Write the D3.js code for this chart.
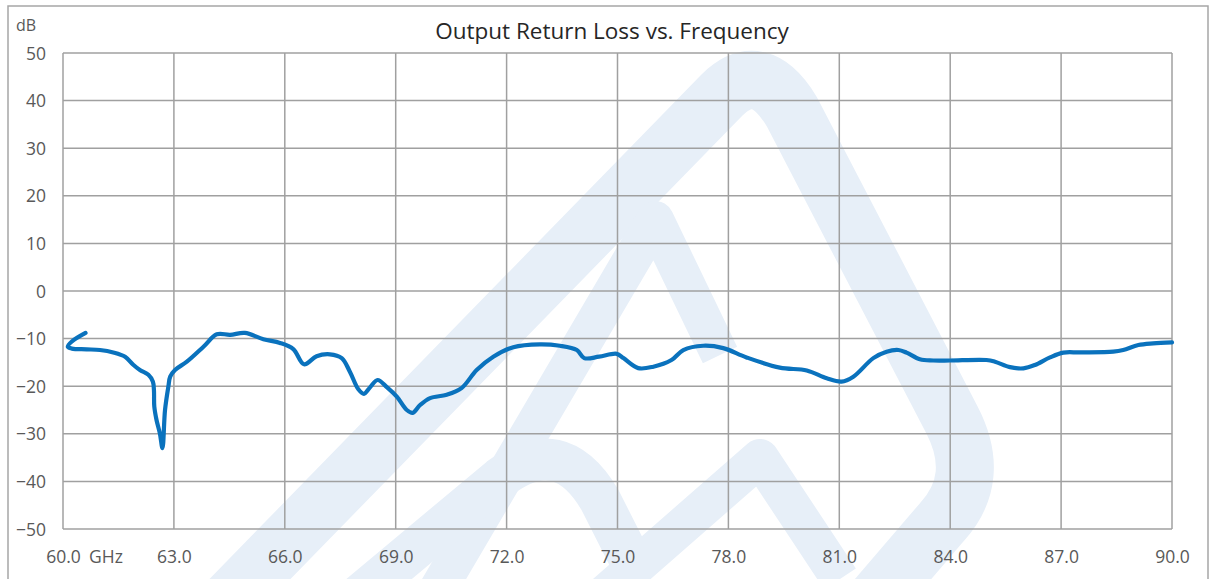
<!DOCTYPE html>
<html><head><meta charset="utf-8">
<script src="https://cdn.jsdelivr.net/npm/d3@7"></script>
<style>
html,body{margin:0;padding:0;background:#fff;}
svg{display:block;}
text{font-family:"Open Sans","Noto Sans",sans-serif;}
</style></head>
<body>
<svg id="chart" width="1213" height="579"></svg>
<script>
const title = "Output Return Loss vs. Frequency";
const yUnit = "dB";
const xUnit = "GHz";
const xTicks = [60,63,66,69,72,75,78,81,84,87,90];
const yTicks = [50,40,30,20,10,0,-10,-20,-30,-40,-50];
const freq = [60.61,60.24,60.13,60.24,60.64,61.0,61.36,61.68,61.9,62.08,62.31,62.43,62.46,62.47,62.53,62.62,62.69,62.76,62.85,62.9,63.03,63.35,63.8,64.16,64.52,64.92,65.42,65.87,66.23,66.52,66.86,67.22,67.54,67.76,67.99,68.14,68.3,68.51,68.76,69.03,69.3,69.46,69.66,69.93,70.38,70.78,71.19,71.64,72.18,72.9,73.44,73.9,74.1,74.5,74.98,75.16,75.56,75.97,76.46,76.78,77.32,77.86,78.49,79.39,80.12,80.66,81.06,81.38,81.92,82.28,82.6,82.82,83.18,83.54,83.99,84.98,85.21,85.62,85.98,86.29,86.7,87.06,87.51,88.41,88.68,89.09,89.49,90.0];
const returnLoss = [-8.8,-10.6,-11.7,-12.1,-12.25,-12.4,-12.9,-13.8,-15.5,-16.6,-17.6,-19.0,-20.8,-24.3,-27.1,-29.9,-33.0,-25.0,-20.1,-18.0,-16.6,-14.85,-11.7,-9.1,-9.2,-8.8,-10.15,-10.9,-12.2,-15.4,-13.7,-13.3,-14.1,-16.95,-20.65,-21.6,-20.3,-18.7,-20.2,-22.2,-25.0,-25.6,-23.95,-22.5,-21.8,-20.4,-16.6,-13.8,-11.8,-11.2,-11.5,-12.4,-14.1,-13.8,-13.2,-14.1,-16.2,-15.9,-14.5,-12.4,-11.5,-12.0,-13.95,-16.1,-16.7,-18.35,-19.05,-18.0,-14.1,-12.75,-12.4,-12.95,-14.35,-14.6,-14.6,-14.5,-14.85,-16.0,-16.25,-15.55,-13.95,-12.95,-12.9,-12.75,-12.4,-11.35,-11.0,-10.8];

const svg = d3.select("#chart");
const L = 63, R = 1172, T = 53, B = 529;
const x = d3.scaleLinear().domain([60,90]).range([L,R]);
const y = d3.scaleLinear().domain([-50,50]).range([B,T]);

// outer frame
svg.append("rect").attr("x",8).attr("y",6).attr("width",1200).attr("height",600)
  .attr("fill","#fff").attr("stroke","#a6a6a6").attr("stroke-width",1.5);

// watermark (decorative)
const wm = svg.append("g").attr("fill","none").attr("stroke","#e7eff8").attr("stroke-linejoin","round");
wm.append("path").attr("d","M 210,620 L 722,95 Q 760,58 792,112 L 952,420 Q 982,478 942,522 L 858,620")
  .attr("stroke-width",58);
wm.append("path").attr("d","M 420,620 L 655,220 L 720,355").attr("stroke-width",38);
wm.append("path").attr("d","M 330,620 L 500,478 Q 560,432 600,500 L 640,579").attr("stroke-width",42);
wm.append("path").attr("d","M 575,620 L 760,458 L 840,579").attr("stroke-width",38);

// grid
const g = svg.append("g");
g.selectAll("line.v").data(xTicks).join("line")
  .attr("x1",d=>x(d)).attr("x2",d=>x(d)).attr("y1",T).attr("y2",B)
  .attr("stroke","#a0a0a0").attr("stroke-width",1.5);
g.selectAll("line.h").data(yTicks).join("line")
  .attr("x1",L).attr("x2",R).attr("y1",d=>y(d)).attr("y2",d=>y(d))
  .attr("stroke","#a0a0a0").attr("stroke-width",1.5);

// axes labels via d3 axes
const yAxis = d3.axisLeft(y).tickValues(yTicks).tickSize(0).tickPadding(0).tickFormat(d3.format("d"));
const ya = svg.append("g").attr("transform",`translate(46,0)`).call(yAxis);
ya.select(".domain").remove();
ya.selectAll("text").attr("fill","#595959").style("font-size","17.5px").attr("dy","0.35em");

const xAxis = d3.axisBottom(x).tickValues(xTicks).tickSize(0).tickPadding(0).tickFormat(d3.format(".1f"));
const xa = svg.append("g").attr("transform",`translate(0,557)`).call(xAxis);
xa.select(".domain").remove();
xa.selectAll("text").attr("fill","#595959").style("font-size","17.5px").attr("y",0).attr("dy","0.35em");

svg.append("text").attr("x",89).attr("y",557).attr("dy","0.35em").attr("fill","#595959").style("font-size","17.5px").text(xUnit);
svg.append("text").attr("x",16).attr("y",25).attr("dy","0.35em").attr("fill","#595959").style("font-size","16px").text(yUnit);
svg.append("text").attr("x",612).attr("y",31).attr("dy","0.35em").attr("text-anchor","middle").attr("fill","#262626")
  .style("font-size","22.5px").text(title);

// curve
const pts = freq.map((f,i)=>[f,returnLoss[i]]);
const line = d3.line().x(d=>x(d[0])).y(d=>y(d[1])).curve(d3.curveCatmullRom.alpha(0.5));
svg.append("path").datum(pts).attr("d",line).attr("fill","none")
  .attr("stroke","#0a72bd").attr("stroke-width",4.2).attr("stroke-linejoin","round").attr("stroke-linecap","round");
</script>
</body></html>
